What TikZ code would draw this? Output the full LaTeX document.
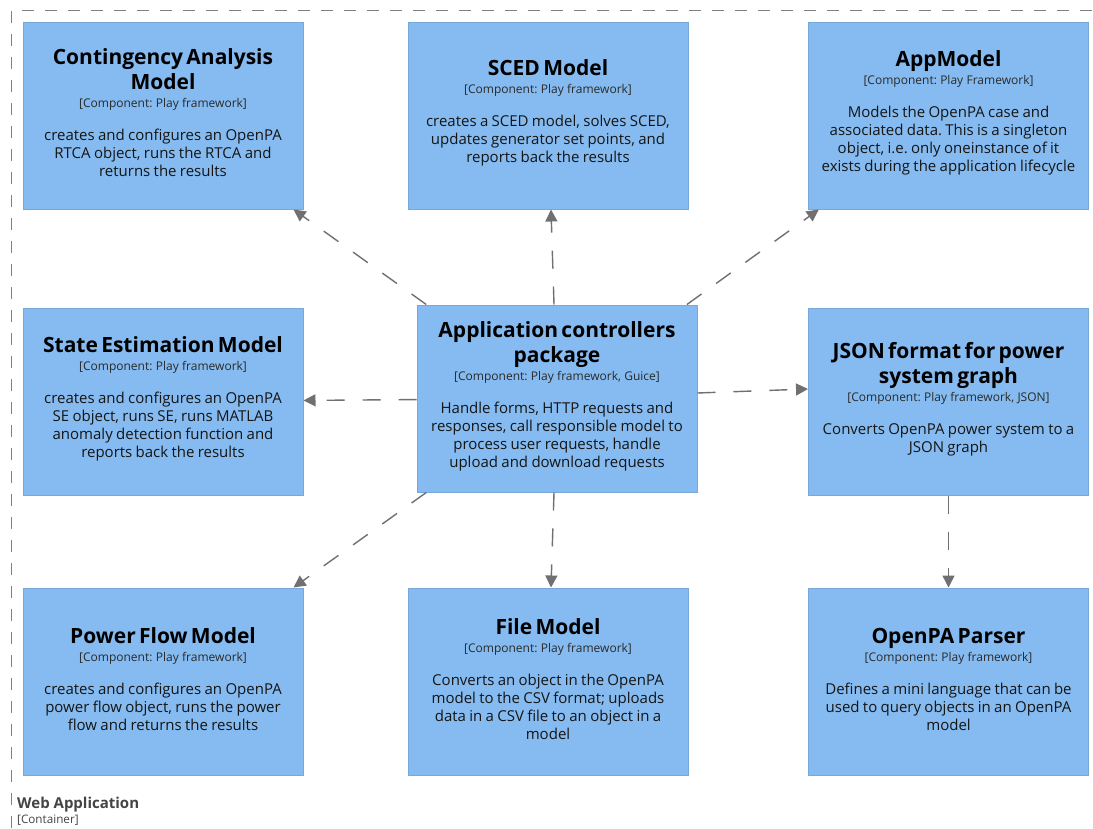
\documentclass[tikz,border=0pt]{standalone}
\usepackage{fontspec}
\setmainfont{Open Sans}
\usetikzlibrary{arrows.meta}
\definecolor{boxfill}{HTML}{85BBF0}
\definecolor{boxline}{HTML}{78A8D8}
\definecolor{arrowgray}{HTML}{707070}
\definecolor{boundgray}{HTML}{808080}
\definecolor{subgray}{HTML}{2A2A2A}
\definecolor{bodytxt}{HTML}{151515}
\definecolor{labelgray}{HTML}{444444}
\newcommand{\compbox}[3]{%
  \frenchspacing
  {\fontsize{21}{25}\selectfont\bfseries\color{black}#1\par}\vspace{3pt}%
  {\fontsize{12}{15}\selectfont\color{subgray}[Component: #2]\par}\vspace{15pt}%
  {\fontsize{15}{18}\selectfont\color{bodytxt}#3\par}\vspace{5pt}\hrule height 0pt width 0pt}
\tikzset{
  comp/.style={rectangle, fill=boxfill, draw=boxline, line width=1pt,
    minimum width=280pt, minimum height=187pt, text width=274pt,
    align=center, inner sep=0pt},
  rel/.style={draw=arrowgray, line width=1.4pt, dash pattern=on 18pt off 18pt,
    -{Triangle[length=12pt,width=12pt]}, color=arrowgray},
  bound/.style={draw=boundgray, line width=1.6pt, dash pattern=on 12pt off 11pt},
}
\begin{document}
\begin{tikzpicture}[x=1pt,y=-1pt]
\useasboundingbox (0,0) rectangle (1093,828);
\fill[white] (0,0) rectangle (1093,828);
\draw[bound] (11.5,828) -- (11.5,10.5) -- (1093,10.5);

\node[comp] (ca) at (163,115.5) {\compbox{Contingency Analysis\\Model}{Play framework}{creates and configures an OpenPA\\RTCA object, runs the RTCA and\\returns the results}};
\node[comp] (sced) at (548,115.5) {\compbox{SCED Model}{Play framework}{creates a SCED model, solves SCED,\\updates generator set points, and\\reports back the results}};
\node[comp] (app) at (948.5,115.5) {\compbox{AppModel}{Play Framework}{Models the OpenPA case and\\associated data. This is a singleton\\object, i.e. only oneinstance of it\\exists during the application lifecycle}};
\node[comp] (se) at (163,401.5) {\compbox{State Estimation Model}{Play framework}{creates and configures an OpenPA\\SE object, runs SE, runs MATLAB\\anomaly detection function and\\reports back the results}};
\node[comp] (ctr) at (557,398.5) {\compbox{Application controllers\\package}{Play framework, Guice}{Handle forms, HTTP requests and\\responses, call responsible model to\\process user requests, handle\\upload and download requests}};
\node[comp] (json) at (948.5,401.5) {\compbox{JSON format for power\\system graph}{Play framework, JSON}{Converts OpenPA power system to a\\JSON graph}};
\node[comp] (pf) at (163,681.5) {\compbox{Power Flow Model}{Play framework}{creates and configures an OpenPA\\power flow object, runs the power\\flow and returns the results}};
\node[comp] (file) at (548,681.5) {\compbox{File Model}{Play framework}{Converts an object in the OpenPA\\model to the CSV format; uploads\\data in a CSV file to an object in a\\model}};
\node[comp] (parser) at (948.5,681.5) {\compbox{OpenPA Parser}{Play framework}{Defines a mini language that can be\\used to query objects in an OpenPA\\model}};

\draw[rel] (ctr) -- (ca);
\draw[rel] (ctr) -- (sced);
\draw[rel] (ctr) -- (app);
\draw[rel] (ctr) -- (se);
\draw[rel] ([yshift=5.5pt]ctr.east) -- ([yshift=12.5pt]json.west);
\draw[rel] (ctr) -- (pf);
\draw[rel] (ctr) -- (file);
\draw[rel] (json) -- (parser);

\node[anchor=base west, inner sep=0pt, text=labelgray, font=\fontsize{15}{17}\selectfont\bfseries] (wa) at (17,808) {Web Application};
\node[anchor=base west, inner sep=0pt, text=labelgray, font=\fontsize{11.7}{13}\selectfont] (wac) at (17,823) {[Container]};
\end{tikzpicture}
\end{document}
